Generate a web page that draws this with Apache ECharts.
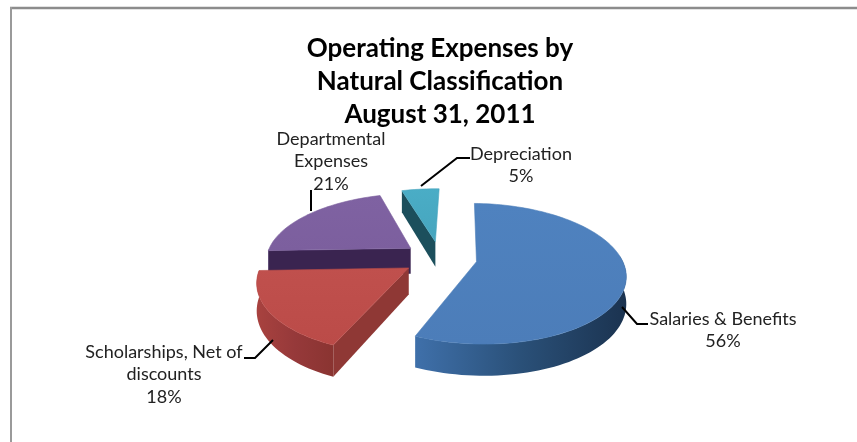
<!DOCTYPE html>
<html>
<head>
<meta charset="utf-8">
<style>html,body{margin:0;padding:0;background:#fff}#chart{width:857px;height:442px}</style>
<script src="https://cdn.jsdelivr.net/npm/echarts@6/dist/echarts.min.js"></script>
</head>
<body>
<div id="chart"></div>
<script>
// Expense categories and their share of the total, clockwise from the start angle
const categories = ['Salaries & Benefits', 'Scholarships, Net of\ndiscounts', 'Departmental\nExpenses', 'Depreciation'];
const shares = [56, 18, 21, 5];
const titleText = 'Operating Expenses by\nNatural Classification\nAugust 31, 2011';

// Face colours per slice: top face, outer rim (left to right), cut wall
const topColors = [['#4f82bf', '#4c7db9'], ['#c0504d', '#bb4b48'], ['#7f62a2', '#7c5f9e'], ['#4aadc6', '#46a5be']];
const rimColors = [['#3f70aa', '#2a5078', '#1b3350'], ['#a8423f', '#96393a', '#8a3431'], ['#5a4476', '#4a3862', '#3c2c52'], ['#2f6f80', '#2a6272', '#235462']];
const wallColors = ['#27486e', '#8f3835', '#3a2450', '#1c4f5c'];

// Label placement and leader lines, per slice
const labelCentres = [[723, 319], [164, 352], [331, 139], [521, 154]];
const leaderPaths = [
  [[622, 307], [637, 324], [648, 324]],
  [[273, 340], [255, 358], [244, 358]],
  [[311, 211], [311, 190]],
  [[421, 186], [457, 158], [470, 158]]
];
const labelLineHeight = 22.5;

// Projection of the tilted disc: centre, radius, tilt, perspective, thickness, explosion
const CX = 440, CY = 258, RADIUS = 145, FLAT_RY = 67, PERSPECTIVE = 0.17, DEPTH = 26, EXPLODE = 37;
const START_ANGLE = 1.5;
// Only this arc of the rim faces the viewer
const RIM_FROM = 85, RIM_TO = 270;

const total = shares.reduce((a, b) => a + b, 0);
const toRad = Math.PI / 180;
let running = 0;
const spans = shares.map(v => {
  const start = START_ANGLE + running / total * 360;
  running += v;
  return [start, START_ANGLE + running / total * 360];
});

function project(x, v, drop) {
  const s = 1 / (1 - PERSPECTIVE * v);
  return [CX + x * s, CY + FLAT_RY * v * s + drop * s];
}

function sliceGeometry(i) {
  const [a0, a1] = spans[i];
  const mid = (a0 + a1) / 2 * toRad;
  const ox = EXPLODE * Math.sin(mid), ov = -EXPLODE * Math.cos(mid) / RADIUS;
  const at = (deg, drop) => project(ox + RADIUS * Math.sin(deg * toRad), ov - Math.cos(deg * toRad), drop);
  const apex = drop => project(ox, ov, drop);
  const arc = (from, to, drop) => {
    const pts = [];
    const n = Math.max(6, Math.ceil((to - from) / 2));
    for (let k = 0; k <= n; k++) pts.push(at(from + (to - from) * k / n, drop));
    return pts;
  };
  return { at, apex, arc, a0, a1 };
}

function linear(colors, horizontal) {
  const stops = colors.map((c, k) => ({ offset: k / (colors.length - 1), color: c }));
  return horizontal ? new echarts.graphic.LinearGradient(0, 0, 1, 0, stops)
                    : new echarts.graphic.LinearGradient(0, 0, 0, 1, stops);
}

function renderSlice(params, api) {
  const i = api.value(0);
  const g = sliceGeometry(i);
  const children = [];
  // Cut wall, only the one facing the viewer
  if (Math.cos((g.a0 - 90) * toRad) < 0) {
    children.push({
      type: 'polygon',
      shape: { points: [g.apex(0), g.at(g.a0, 0), g.at(g.a0, DEPTH), g.apex(DEPTH)] },
      style: { fill: wallColors[i] }
    });
  }
  // Outer rim, clipped to the side turned towards the viewer
  const from = Math.max(g.a0, RIM_FROM), to = Math.min(g.a1, RIM_TO);
  if (to > from) {
    children.push({
      type: 'polygon',
      shape: { points: g.arc(from, to, 0).concat(g.arc(from, to, DEPTH).reverse()) },
      style: { fill: linear(rimColors[i], true) }
    });
  }
  // Top face
  children.push({
    type: 'polygon',
    shape: { points: [g.apex(0)].concat(g.arc(g.a0, g.a1, 0)) },
    style: { fill: linear(topColors[i], false), stroke: topColors[i][1], lineWidth: 0.6 }
  });
  return { type: 'group', children };
}

function renderLabel(params, api) {
  const i = api.value(0);
  const lines = categories[i].split('\n').concat(Math.round(shares[i] / total * 100) + '%');
  const [lx, ly] = labelCentres[i];
  return {
    type: 'group',
    children: [{
      type: 'polyline',
      shape: { points: leaderPaths[i] },
      style: { stroke: '#000', lineWidth: 2, fill: null }
    }].concat(lines.map((line, k) => ({
      type: 'text',
      style: {
        x: lx, y: ly + k * labelLineHeight, text: line,
        textAlign: 'center', textVerticalAlign: 'middle',
        font: '400 18px Lato', fill: '#222222'
      }
    })))
  };
}

const chart = echarts.init(document.getElementById('chart'), null, { renderer: 'canvas' });
chart.setOption({
  animation: false,
  backgroundColor: '#ffffff',
  title: {
    text: titleText,
    left: 435, top: 27, textAlign: 'center',
    textStyle: { fontFamily: 'Lato', fontWeight: 'bold', fontSize: 26, lineHeight: 33, color: '#000' }
  },
  graphic: [
    { type: 'line', shape: { x1: 10, y1: 8, x2: 857, y2: 8 }, style: { stroke: '#8c8c8c', lineWidth: 2.5 } },
    { type: 'line', shape: { x1: 11, y1: 7, x2: 11, y2: 442 }, style: { stroke: '#9a9a9a', lineWidth: 2 } }
  ],
  series: [
    // Back slices are painted first so nearer ones overlap them
    { type: 'custom', coordinateSystem: 'none', renderItem: renderSlice, silent: true, z: 2,
      data: [3, 2, 1, 0].map(i => [i, shares[i]]), encode: { value: 1 } },
    { type: 'custom', coordinateSystem: 'none', renderItem: renderLabel, silent: true, z: 3,
      data: shares.map((v, i) => [i, v]), encode: { value: 1 } }
  ]
});
</script>
</body>
</html>
